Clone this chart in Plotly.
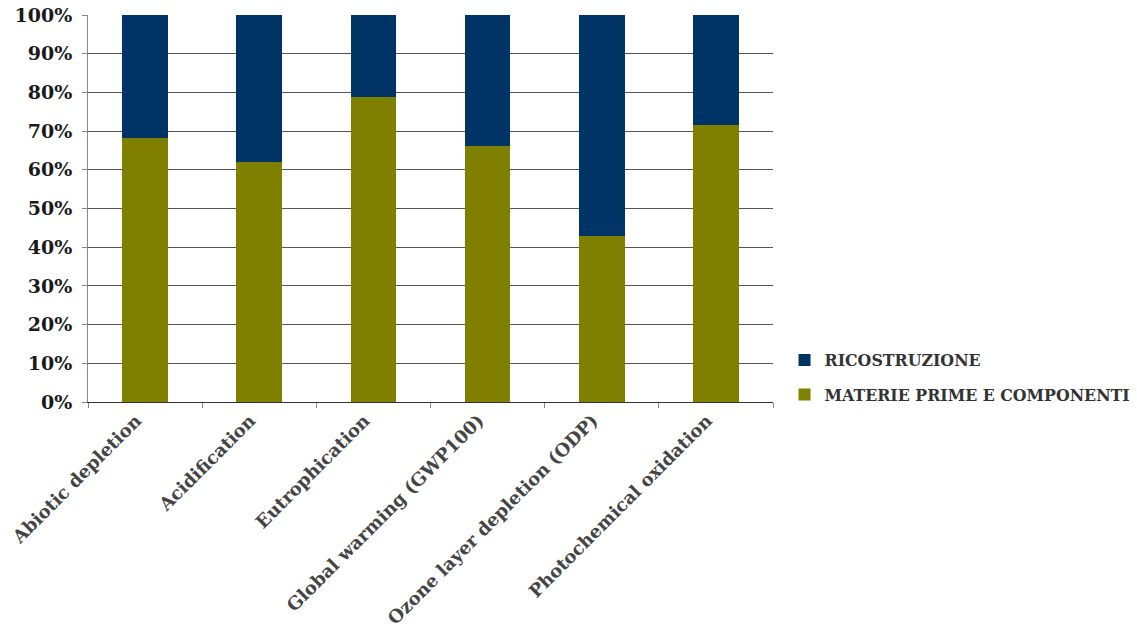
import plotly.graph_objects as go

categories = [
    "Abiotic depletion",
    "Acidification",
    "Eutrophication",
    "Global warming (GWP100)",
    "Ozone layer depletion (ODP)",
    "Photochemical oxidation",
]
materie_prime = [68.2, 62.0, 78.8, 66.1, 42.9, 71.6]
ricostruzione = [100 - v for v in materie_prime]

font_family = "DejaVu Serif"
text_color = "#2b2b2b"

fig = go.Figure()
fig.add_trace(go.Bar(
    x=categories, y=materie_prime, name="<b>MATERIE PRIME E COMPONENTI</b>",
    legendgroup="materie", legendrank=2,
    marker=dict(color="#808000", line=dict(width=0)),
))
fig.add_trace(go.Bar(
    x=categories, y=ricostruzione, name="<b>RICOSTRUZIONE</b>",
    legendgroup="ricostruzione", legendrank=1,
    marker=dict(color="#003366", line=dict(width=0)),
))

fig.update_layout(
    width=1137, height=635,
    barmode="stack", bargap=0.6,
    plot_bgcolor="white", paper_bgcolor="white",
    margin=dict(l=88, r=364, t=15, b=233),
    font=dict(family=font_family, color=text_color, size=16),
    legend=dict(
        xref="container", yref="container",
        x=0.69, y=0.4595, xanchor="left", yanchor="top",
        traceorder="grouped", tracegroupgap=11,
        font=dict(size=15.8, color="#333"),
        itemwidth=30, bgcolor="rgba(0,0,0,0)",
    ),
    showlegend=True,
)
fig.update_yaxes(
    range=[0, 100], dtick=10, ticksuffix="%",
    showgrid=True, gridcolor="#555555", gridwidth=1,
    showline=True, linecolor="#888888", linewidth=1,
    ticks="outside", ticklen=5, tickcolor="#888888",
    tickfont=dict(size=19, family=font_family, color="#1a1a1a"),
    tickprefix="<b>", zeroline=False, automargin=False,
    ticklabelstandoff=6,
)
fig.update_xaxes(
    tickangle=-45, showline=True, linecolor="#333333", linewidth=1,
    ticks="outside", tickson="boundaries", ticklen=5, tickcolor="#888888",
    tickfont=dict(size=18, family=font_family, color="#444"),
    tickprefix="<b>", ticksuffix="</b>", automargin=False,
    ticklabelshift=-9,
)

fig.write_html("out.html")
